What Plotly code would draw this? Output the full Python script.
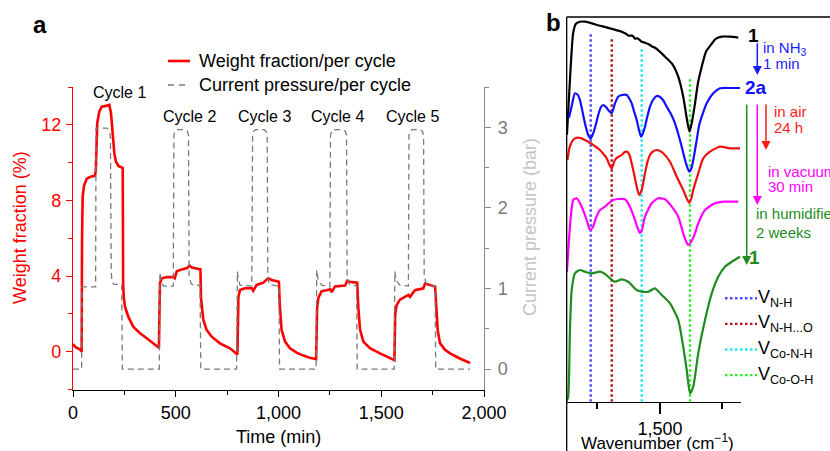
import plotly.graph_objects as go

W, H = 830, 451
def px(x): return x / W
def py(y): return 1 - y / H

FONT = "Liberation Sans, Arial, Helvetica, sans-serif"

# ---------------- Panel a data ----------------
time_w = [0, 11, 35, 42, 44, 47, 54, 67, 85, 107, 111, 114, 118, 128, 140, 160, 177, 185, 193, 201, 209, 221, 237, 242,
          244, 247, 253, 269, 293, 326, 359, 391, 418,
          423, 432, 456, 488, 495, 505, 530, 555, 567, 578, 600, 620, 623, 628, 634, 650, 675, 715, 764, 800,
          805, 813, 837, 870, 877, 894, 926, 950, 967, 1002, 1006, 1015, 1032, 1056, 1088, 1121, 1153, 1183,
          1188, 1194, 1210, 1234, 1252, 1259, 1275, 1324, 1335, 1345, 1383, 1388, 1397, 1413, 1445, 1494, 1564,
          1568, 1575, 1591, 1632, 1640, 1664, 1705, 1713, 1762, 1768, 1775, 1786, 1810, 1835, 1880, 1932]
weight = [0.4, 0.25, 0.1, 0.0, 6.0, 8.2, 8.8, 9.15, 9.25, 9.3, 9.6, 11.2, 12.1, 12.7, 12.96, 13.0, 13.05, 12.6, 11.55, 10.5, 10.05, 9.82, 9.74, 9.72,
          3.6, 2.9, 2.38, 1.85, 1.32, 0.97, 0.71, 0.44, 0.2,
          3.62, 3.88, 3.94, 3.94, 3.88, 4.25, 4.35, 4.42, 4.55, 4.45, 4.4, 4.35, 2.8, 2.1, 1.7, 1.15, 0.79, 0.44, 0.18, -0.15,
          2.91, 3.26, 3.35, 3.35, 3.22, 3.53, 3.65, 3.88, 3.79, 3.7, 2.5, 1.15, 0.53, 0.18, -0.05, -0.21, -0.33, -0.4,
          2.3, 2.85, 3.2, 3.25, 3.3, 3.15, 3.45, 3.5, 3.75, 3.7, 3.65, 2.4, 1.15, 0.53, 0.18, -0.09, -0.45,
          2.0, 2.47, 2.75, 3.0, 2.9, 3.25, 3.35, 3.6, 3.45, 2.0, 1.1, 0.45, 0.1, -0.09, -0.35, -0.6]

time_p = [0, 42, 43, 110, 112, 165, 175, 182, 186, 190, 200, 237, 240,
          420, 423, 428, 440, 488, 491, 496, 505, 545, 557, 562, 565, 575, 585, 618, 622,
          796, 800, 806, 813, 870, 874, 879, 888, 930, 940, 945, 948, 955, 1002, 1005,
          1183, 1186, 1192, 1210, 1250, 1253, 1258, 1267, 1315, 1326, 1331, 1334, 1345, 1380, 1383,
          1563, 1566, 1572, 1591, 1632, 1635, 1640, 1649, 1690, 1701, 1706, 1709, 1720, 1762, 1765, 1932]
pressure = [0, 0, 1.02, 1.02, 2.99, 2.99, 2.96, 2.9, 1.2, 1.08, 1.05, 1.05, 0,
            0, 1.2, 1.1, 1.03, 1.03, 2.9, 2.95, 2.97, 2.97, 2.95, 2.9, 1.15, 1.06, 1.04, 1.04, 0,
            0, 1.21, 1.1, 1.04, 1.03, 2.9, 2.95, 2.97, 2.97, 2.95, 2.9, 1.15, 1.05, 1.03, 0,
            0, 1.23, 1.12, 1.04, 1.02, 2.9, 2.95, 2.97, 2.97, 2.95, 2.9, 1.15, 1.05, 1.03, 0,
            0, 1.21, 1.1, 1.04, 1.03, 2.9, 2.95, 2.97, 2.97, 2.95, 2.9, 1.15, 1.05, 1.03, 0, 0]

cycle_labels = ["Cycle 1", "Cycle 2", "Cycle 3", "Cycle 4", "Cycle 5"]
legend_a = ["Weight fraction/per cycle", "Current pressure/per cycle"]

# ---------------- Panel b data ----------------
wn_1 = [1128, 1140, 1153, 1164, 1180, 1200, 1260, 1347, 1360, 1375, 1390, 1400, 1410, 1427, 1440, 1455, 1470, 1480, 1495,
        1520, 1548, 1573, 1593, 1608, 1618, 1628, 1640, 1652, 1667, 1684, 1707, 1724, 1747, 1780, 1813]
ir_1 = [267, 322, 369, 378, 380, 380, 376, 370, 368.5, 366, 366, 363, 363.5, 360, 359, 357.5, 355, 354, 351,
        345, 338, 325, 305, 282, 270, 280, 298, 319, 335, 350, 358, 363, 365, 365, 364]

wn_2a = [1136, 1148, 1160, 1172, 1180, 1200, 1213, 1223, 1233, 1244, 1253, 1264, 1273, 1284, 1293, 1307, 1320, 1333, 1348,
         1367, 1376, 1387, 1396, 1407, 1416, 1424, 1432, 1440, 1450, 1460, 1472, 1487, 1500, 1512, 1527, 1544, 1560, 1572,
         1587, 1604, 1617, 1626, 1633, 1647, 1656, 1667, 1687, 1713, 1740, 1780, 1820]
ir_2a = [283.7, 296.7, 308.4, 306.7, 301.7, 278.4, 266.7, 263.4, 268.4, 277.7, 286.7, 294.7, 296.7, 294.7, 291.7, 288.4,
         298.4, 305, 306.7, 306.7, 303.7, 298.4, 290.7, 281.7, 271.7, 265, 268.7, 275, 285.7, 295, 301.7, 305.7, 304.7,
         301.7, 295, 287.7, 278.4, 268.7, 255, 238.4, 230, 233.7, 241.7, 261.7, 275.7, 285, 298.4, 308.4, 313.4, 313.7, 313.7]

wn_air = [1130, 1140, 1156, 1173, 1200, 1227, 1260, 1274, 1287, 1298, 1307, 1314, 1320, 1332, 1347, 1356, 1367, 1374, 1380,
          1393, 1407, 1417, 1427, 1440, 1450, 1460, 1472, 1487, 1500, 1513, 1540, 1567, 1593, 1606, 1617, 1626, 1633, 1653,
          1673, 1700, 1740, 1780, 1820]
ir_air = [241.7, 255.7, 262.7, 264, 261.7, 257.7, 251.7, 247.7, 243.4, 236.7, 233.4, 237.7, 241.7, 244.7, 246.7, 249.2, 250,
          248.7, 245, 231.7, 215, 206.7, 211.7, 228.4, 239.7, 246.7, 250.2, 251.7, 250.7, 248.4, 240, 225, 211.7, 203.7,
          198.7, 203.7, 211.7, 228.4, 243.4, 250, 255, 253.4, 253.4]

wn_vac = [1128, 1136, 1144, 1153, 1167, 1187, 1207, 1220, 1232, 1244, 1260, 1280, 1296, 1313, 1336, 1360, 1380, 1400, 1412,
          1420, 1428, 1440, 1467, 1493, 1520, 1547, 1573, 1593, 1604, 1613, 1624, 1640, 1653, 1680, 1720, 1760, 1813]
ir_vac = [129.7, 161.7, 186.7, 201.7, 203.4, 195, 181.7, 171.7, 174.7, 183.7, 191.7, 195, 198.7, 201.7, 202.7, 202.4, 195,
          181.7, 172.7, 168.7, 171.7, 185, 198.4, 203.4, 202.4, 195, 185, 168.4, 160.7, 156.7, 159.7, 168.4, 178.4, 191.7,
          198.4, 200, 200]

wn_hum = [1127, 1133, 1140, 1147, 1160, 1180, 1200, 1223, 1240, 1260, 1280, 1300, 1320, 1347, 1373, 1407, 1427, 1453, 1480,
          1507, 1540, 1573, 1593, 1607, 1620, 1633, 1653, 1680, 1707, 1733, 1760, 1787, 1820]
ir_hum = [0.7, 5, 71.7, 111.7, 128.4, 131.7, 130, 128.4, 129, 130, 127.7, 123.4, 120, 122.4, 120, 111.7, 110, 110, 113.4,
          106.7, 98.4, 81.7, 55, 31.7, 8.4, 15, 48.4, 81.7, 108.4, 125, 135, 140, 145]

mode_wn = [1223, 1307, 1427, 1620]
mode_top = [369.7, 364.4, 355, 322.7]
mode_colors = ["#4a4aff", "#b5121b", "#1ee6f0", "#2ee82e"]
mode_labels = ["V<sub>N-H</sub>", "V<sub>N-H...O</sub>", "V<sub>Co-N-H</sub>", "V<sub>Co-O-H</sub>"]

fig = go.Figure()

# Panel a traces
fig.add_trace(go.Scatter(x=time_p, y=pressure, mode="lines", yaxis="y2", xaxis="x",
                         line=dict(color="#7a7a7a", width=1.3, dash="6px,4px"), showlegend=False))
fig.add_trace(go.Scatter(x=time_w, y=weight, mode="lines", xaxis="x", yaxis="y",
                         line=dict(color="#ff0000", width=2.6), showlegend=False))

# Panel b traces
for wn, top, c in zip(mode_wn, mode_top, mode_colors):
    fig.add_trace(go.Scatter(x=[wn, wn], y=[0, top], mode="lines", xaxis="x3", yaxis="y3",
                             line=dict(color=c, width=2.4, dash="2.5px,2.5px"), showlegend=False))
for xs, ys, c in [(wn_1, ir_1, "#000000"), (wn_2a, ir_2a, "#1010ff"), (wn_air, ir_air, "#ee1111"),
                  (wn_vac, ir_vac, "#ff00ff"), (wn_hum, ir_hum, "#1e8c1e")]:
    fig.add_trace(go.Scatter(x=xs, y=ys, mode="lines", xaxis="x3", yaxis="y3",
                             line=dict(color=c, width=2.2, shape="spline", smoothing=0.6), showlegend=False))

fig.update_layout(
    width=W, height=H, autosize=False, margin=dict(l=0, r=0, t=0, b=0, pad=0, autoexpand=False),
    paper_bgcolor="white", plot_bgcolor="white",
    font=dict(family=FONT, size=18, color="black"),
    xaxis=dict(domain=[px(73), px(484)], range=[0, 2000], anchor="y", showline=True, linecolor="black", linewidth=1.3,
               ticks="outside", ticklen=6, tickwidth=1.3, tickcolor="black", dtick=500, tick0=0, tickformat=",",
               minor=dict(dtick=250, ticklen=4, tickwidth=1.2, tickcolor="black", ticks="outside"), automargin=False,
               showgrid=False, zeroline=False, tickfont=dict(family=FONT, size=18, color="black")),
    yaxis=dict(domain=[py(390), py(87)], range=[-2.03, 14.0], anchor="x", showline=True, linecolor="#ff0000", linewidth=1.3,
               ticks="outside", ticklen=6, tickwidth=1.3, tickcolor="#ff0000", dtick=4, tick0=0,
               minor=dict(dtick=2, tick0=0, ticklen=4, tickwidth=1.2, tickcolor="#ff0000", ticks="outside"), automargin=False,
               showgrid=False, zeroline=False, ticklabelstandoff=1, tickfont=dict(family=FONT, size=18, color="#ff0000")),
    yaxis2=dict(overlaying="y", side="right", anchor="x", range=[-0.26, 3.5], showline=True, linecolor="#8a8a8a", linewidth=1.3,
                ticks="outside", ticklen=6, tickwidth=1.3, tickcolor="#8a8a8a", dtick=1, tick0=0,
                minor=dict(dtick=0.5, tick0=0, ticklen=4, tickwidth=1.2, tickcolor="#8a8a8a", ticks="outside"), automargin=False,
                showgrid=False, zeroline=False, ticklabelstandoff=3, tickfont=dict(family=FONT, size=18, color="#7a7a7a")),
    xaxis3=dict(domain=[px(566.7), px(741)], range=[1127, 1824], anchor="y3", showline=True, linecolor="black", linewidth=1.3,
                ticks="outside", ticklen=11, tickwidth=1.5, tickcolor="black", dtick=500, tick0=1000, tickformat=",",
                minor=dict(dtick=250, tick0=1000, ticklen=6, tickwidth=1.5, tickcolor="black", ticks="outside"), automargin=False,
                showgrid=False, zeroline=False, tickfont=dict(family=FONT, size=18, color="black")),
    yaxis3=dict(domain=[py(401.7), py(17)], range=[0, 384.7], anchor="x3", visible=False, automargin=False),
)

shapes = []
# panel b frame (top line and left line)
shapes.append(dict(type="line", xref="paper", yref="paper", x0=px(566.7), x1=1.0, y0=py(17), y1=py(17),
                   line=dict(color="black", width=1.3)))
shapes.append(dict(type="line", xref="paper", yref="paper", x0=px(566.7), x1=px(566.7), y0=py(17), y1=py(455),
                   line=dict(color="black", width=1.3)))
# panel a legend samples
shapes.append(dict(type="line", xref="paper", yref="paper", x0=px(168), x1=px(190), y0=py(61), y1=py(61),
                   line=dict(color="#ff0000", width=2.6)))
shapes.append(dict(type="line", xref="paper", yref="paper", x0=px(168), x1=px(190), y0=py(85), y1=py(85),
                   line=dict(color="#7a7a7a", width=1.3, dash="6px,5px")))
# panel b legend samples
for i, c in enumerate(mode_colors):
    yy = 298.3 + i * 25.6
    shapes.append(dict(type="line", xref="paper", yref="paper", x0=px(725), x1=px(757), y0=py(yy), y1=py(yy),
                       line=dict(color=c, width=2.4, dash="2.5px,2.5px")))
fig.update_layout(shapes=shapes)

ann = []
def text(x, y, s, size=18, color="black", xanchor="center", bold=False, angle=0):
    if bold:
        s = "<b>" + s + "</b>"
    ann.append(dict(xref="paper", yref="paper", x=px(x), y=py(y), text=s, showarrow=False,
                    xanchor=xanchor, yanchor="middle", textangle=angle,
                    font=dict(family=FONT, size=size, color=color)))

def arrow(x, y0, y1, color):
    ann.append(dict(xref="paper", yref="paper", x=px(x), y=py(y1), ax=0, ay=-(y1 - y0), text="",
                    showarrow=True, arrowhead=2, arrowsize=1.2, arrowwidth=1.5, arrowcolor=color, standoff=0))

# panel labels
text(40, 24, "a", size=24, bold=True)
text(553, 22, "b", size=24, bold=True)
# panel a legend
text(197, 61, legend_a[0], size=18, xanchor="left")
text(197, 85, legend_a[1], size=18, xanchor="left")
# cycle labels
for lab, (cx, cy) in zip(cycle_labels, [(119, 92), (189, 117), (264, 117), (337, 117), (412, 117)]):
    text(cx, cy, lab, size=16)
# axis titles
text(20, 228, "Weight fraction (%)", size=18, color="#ff0000", angle=-90)
text(530, 227, "Current pressure (bar)", size=18, color="#c4c4c4", angle=-90)
text(278, 437, "Time (min)", size=18)
text(657, 442, "Wavenumber (cm<sup>−1</sup>)", size=17)
# panel b labels
text(746, 35, "1", size=19, bold=True, xanchor="left")
text(761, 48.5, "in NH<sub>3</sub>", size=15, color="#1a1aff", xanchor="left")
text(761, 64, "1 min", size=15, color="#1a1aff", xanchor="left")
text(743, 87.5, "2a", size=19, color="#1010ff", bold=True, xanchor="left")
text(771.5, 111.5, "in air", size=15, color="#ff1a1a", xanchor="left")
text(771.5, 127, "24 h", size=15, color="#ff1a1a", xanchor="left")
text(765.5, 171.5, "in vacuum", size=15, color="#ff00ff", xanchor="left")
text(765.5, 187, "30 min", size=15, color="#ff00ff", xanchor="left")
text(754, 213, "in humidifier", size=15, color="#1e8c1e", xanchor="left")
text(754, 232, "2 weeks", size=15, color="#1e8c1e", xanchor="left")
text(746.5, 257.5, "1", size=19, color="#1e8c1e", bold=True, xanchor="left")
for i, lab in enumerate(mode_labels):
    text(756, 298.3 + i * 25.6, lab, size=18, xanchor="left")
# arrows
arrow(757.3, 41.7, 75, "#1a1aff")
arrow(766, 103, 150, "#ff1a1a")
arrow(757.3, 103, 205, "#ff00ff")
arrow(746.7, 103, 265, "#1e8c1e")

fig.update_layout(annotations=ann)
fig.write_html("out.html", config={"responsive": False, "displayModeBar": False},
               default_width="830px", default_height="451px",
               post_script="document.body.style.margin='0';document.body.style.overflow='hidden';")
